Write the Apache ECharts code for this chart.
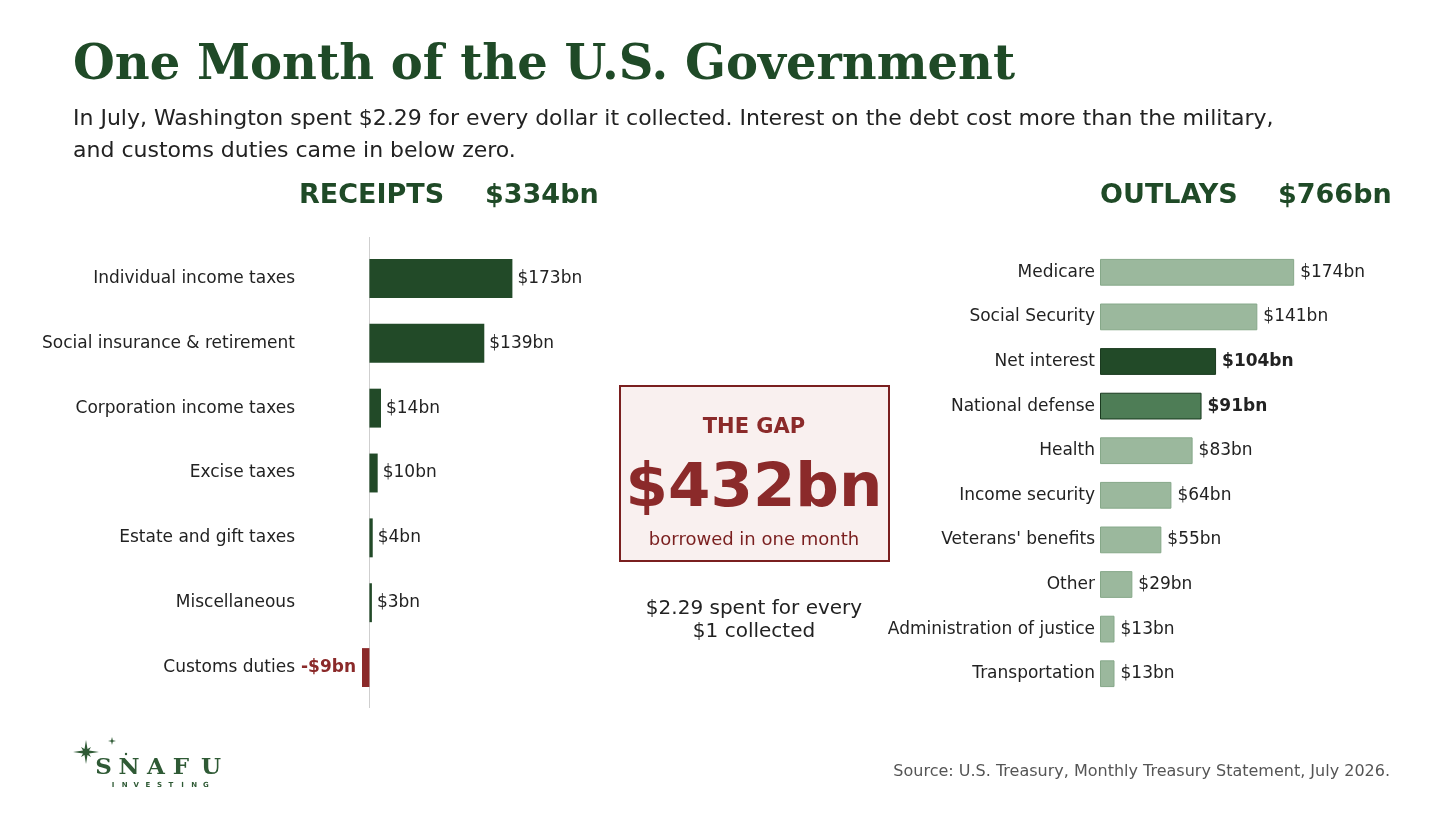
<!DOCTYPE html>
<html>
<head>
<meta charset="utf-8">
<script src="https://cdn.jsdelivr.net/npm/echarts@6/dist/echarts.min.js"></script>
<style>
  html, body { margin: 0; padding: 0; background: #fff; }
  #chart { width: 1456px; height: 819px; }
</style>
</head>
<body>
<div id="chart"></div>
<script>
var receiptCats = ['Individual income taxes', 'Social insurance & retirement', 'Corporation income taxes',
  'Excise taxes', 'Estate and gift taxes', 'Miscellaneous', 'Customs duties'];
var receiptVals = [173, 139, 14, 10, 4, 3, -9];

var outlayCats = ['Medicare', 'Social Security', 'Net interest', 'National defense', 'Health',
  'Income security', "Veterans' benefits", 'Other', 'Administration of justice', 'Transportation'];
var outlayVals = [174, 141, 104, 91, 83, 64, 55, 29, 13, 13];

var receiptTotal = 334, outlayTotal = 766, gapTotal = 432, spentPerDollar = '2.29';

var GREEN = '#224a28', MID = '#4e7d56', LIGHT = '#9bb89d', RED = '#8b2a2a';
var FONT = 'DejaVu Sans';
var strong = { 'Net interest': GREEN, 'National defense': MID };

/* receipts (#left grid) */
var receiptData = receiptVals.map(function (v) {
  return {
    value: v,
    itemStyle: { color: v < 0 ? RED : GREEN },
    label: v < 0 ? { position: 'left', distance: 6, color: RED, fontWeight: 'bold' } : {}
  };
});

/* outlays (#right grid) */
var outlayData = outlayVals.map(function (v, i) {
  var c = strong[outlayCats[i]];
  return {
    value: v,
    itemStyle: { color: c || LIGHT, borderColor: c ? '#1a3a1f' : '#86a889', borderWidth: 1 },
    label: c ? { fontWeight: 'bold' } : {}
  };
});

// logo letters, spaced out by hand
var logoBig = [['S', 103.5], ['N', 129], ['A', 156], ['F', 181], ['U', 211]];
var logoSmall = 'INVESTING'.split('');
var logo = [];
logoBig.forEach(function (l) {
  logo.push({ type: 'text', x: l[1], y: 768, style: { text: l[0], fill: '#2f5a35',
    font: 'bold 23px "DejaVu Serif"', align: 'center', verticalAlign: 'middle' } });
});
logoSmall.forEach(function (ch, i) {
  logo.push({ type: 'text', x: 113 + i * 11.6, y: 785, style: { text: ch, fill: '#2f5a35',
    font: 'bold 7px "DejaVu Sans"', align: 'center', verticalAlign: 'middle' } });
});

var chart = echarts.init(document.getElementById('chart'), null, { renderer: 'canvas' });

var option = {
  backgroundColor: '#fff',
  animation: false,
  textStyle: { fontFamily: FONT },
  grid: [
    { left: 300, width: 300, top: 246, height: 454 },
    { left: 1100, width: 260, top: 250, height: 446 }
  ],
  xAxis: [
    { gridIndex: 0, type: 'value', min: -84, max: 279, show: false },
    { gridIndex: 1, type: 'value', min: 0, max: 233, show: false }
  ],
  yAxis: [
    {
      gridIndex: 0, type: 'category', data: receiptCats, inverse: true,
      axisLine: { show: false }, axisTick: { show: false },
      axisLabel: { margin: 5, fontSize: 17, color: '#222', fontFamily: FONT }
    },
    {
      gridIndex: 1, type: 'category', data: outlayCats, inverse: true,
      axisLine: { show: false }, axisTick: { show: false },
      axisLabel: { margin: 5, fontSize: 17, color: '#222', fontFamily: FONT }
    }
  ],
  series: [
    {
      type: 'bar', xAxisIndex: 0, yAxisIndex: 0, data: receiptData, barWidth: '60%',
      label: {
        show: true, position: 'right', distance: 5, fontSize: 17, color: '#222', fontFamily: FONT,
        formatter: function (p) { return (p.value < 0 ? '-$' + Math.abs(p.value) : '$' + p.value) + 'bn'; }
      }
    },
    {
      type: 'bar', xAxisIndex: 1, yAxisIndex: 1, data: outlayData, barWidth: '60%',
      label: {
        show: true, position: 'right', distance: 6, fontSize: 17, color: '#222', fontFamily: FONT,
        formatter: function (p) { return '$' + p.value + 'bn'; }
      }
    }
  ],
  graphic: [
    { type: 'text', left: 73, top: 43, style: { text: 'One Month of the U.S. Government', fill: '#1f4a27',
      font: 'bold 48px "DejaVu Serif"' } },
    { type: 'text', left: 73, top: 103, style: {
      text: 'In July, Washington spent $' + spentPerDollar + ' for every dollar it collected. Interest on the debt cost more than the military,\nand customs duties came in below zero.',
      fill: '#222', font: '22px "DejaVu Sans"', lineHeight: 32 } },
    { type: 'text', x: 299, y: 196, style: { text: 'RECEIPTS', fill: '#1f4a27', font: 'bold 27px "DejaVu Sans"', verticalAlign: 'middle' } },
    { type: 'text', x: 485, y: 196, style: { text: '$' + receiptTotal + 'bn', fill: '#1f4a27', font: 'bold 27px "DejaVu Sans"', verticalAlign: 'middle' } },
    { type: 'text', x: 1100, y: 196, style: { text: 'OUTLAYS', fill: '#1f4a27', font: 'bold 27px "DejaVu Sans"', verticalAlign: 'middle' } },
    { type: 'text', x: 1278, y: 196, style: { text: '$' + outlayTotal + 'bn', fill: '#1f4a27', font: 'bold 27px "DejaVu Sans"', verticalAlign: 'middle' } },
    /* zero line for receipts */
    { type: 'line', shape: { x1: 369.5, y1: 237, x2: 369.5, y2: 708 }, style: { stroke: '#cfcfcf', lineWidth: 1 }, z: -1 },
    /* gap box */
    { type: 'rect', shape: { x: 620, y: 386, width: 269, height: 175 },
      style: { fill: '#f9f0ef', stroke: '#7a1f1f', lineWidth: 2 } },
    { type: 'text', x: 754, y: 428, style: { text: 'THE GAP', fill: RED, font: 'bold 21px "DejaVu Sans"', align: 'center', verticalAlign: 'middle' } },
    { type: 'text', x: 754, y: 490, style: { text: '$' + gapTotal + 'bn', fill: RED, font: 'bold 61px "DejaVu Sans"', align: 'center', verticalAlign: 'middle' } },
    { type: 'text', x: 754, y: 540, style: { text: 'borrowed in one month', fill: '#7a1f1f', font: '18px "DejaVu Sans"', align: 'center', verticalAlign: 'middle' } },
    { type: 'text', x: 754, y: 620, style: { text: '$' + spentPerDollar + ' spent for every\n$1 collected', fill: '#222', font: '20px "DejaVu Sans"',
      align: 'center', verticalAlign: 'middle', lineHeight: 23 } },
    /* source */
    { type: 'text', x: 1390, y: 772, style: { text: 'Source: U.S. Treasury, Monthly Treasury Statement, July 2026.', fill: '#555',
      font: '16px "DejaVu Sans"', align: 'right', verticalAlign: 'middle' } },
    /* logo stars */
    { type: 'polygon', shape: { points: [[86, 740], [87.5, 749], [91, 747], [89, 750.5], [99, 752], [89, 753.5], [91, 757], [87.5, 755],
      [86, 764], [84.5, 755], [81, 757], [83, 753.5], [73, 752], [83, 750.5], [81, 747], [84.5, 749]] },
      style: { fill: '#2f5a35' } },
    { type: 'polygon', shape: { points: [[112, 737], [112.8, 740.2], [116, 741], [112.8, 741.8], [112, 745], [111.2, 741.8], [108, 741], [111.2, 740.2]] },
      style: { fill: '#2f5a35' } },
    { type: 'circle', shape: { cx: 126, cy: 754, r: 1.2 }, style: { fill: '#2f5a35' } }
  ].concat(logo)
};

chart.setOption(option);
window.addEventListener('resize', function () { chart.resize(); });
</script>
</body>
</html>
